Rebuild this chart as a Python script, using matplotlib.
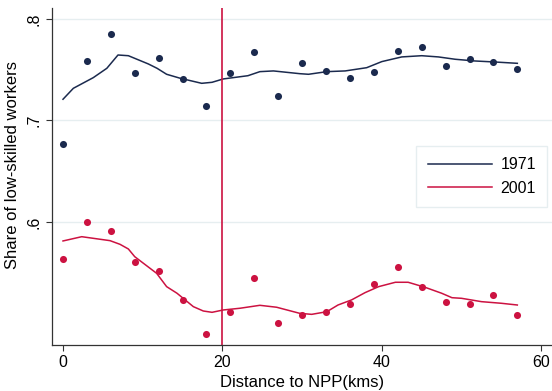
import matplotlib
matplotlib.use("Agg")
import matplotlib.pyplot as plt

plt.rcParams['font.family'] = ['Liberation Sans', 'DejaVu Sans']

# binned means (every 3 km)
dist = [0, 3, 6, 9, 12, 15, 18, 21, 24, 27, 30, 33, 36, 39, 42, 45, 48, 51, 54, 57]
share_1971 = [0.677, 0.759, 0.785, 0.747, 0.762, 0.741, 0.714, 0.747, 0.767, 0.724,
              0.757, 0.749, 0.742, 0.748, 0.768, 0.772, 0.754, 0.761, 0.758, 0.751]
share_2001 = [0.564, 0.600, 0.591, 0.561, 0.552, 0.523, 0.490, 0.511, 0.545, 0.500,
              0.508, 0.511, 0.519, 0.539, 0.556, 0.536, 0.521, 0.519, 0.528, 0.508]

# lowess fits
fit_x_1971 = [0.0, 1.3, 3.8, 5.5, 6.9, 8.2, 10.7, 11.8, 13.0, 14.7, 17.4, 18.7, 20.1,
              23.2, 24.7, 26.4, 29.7, 30.8, 33.1, 35.4, 38.1, 40.0, 42.5, 45.0, 47.1,
              49.2, 51.7, 54.2, 57.0]
fit_y_1971 = [0.7209, 0.7317, 0.7422, 0.7514, 0.7645, 0.7638, 0.7557, 0.7514, 0.7455,
              0.7416, 0.7366, 0.7376, 0.7409, 0.7441, 0.7481, 0.7488, 0.7461, 0.7455,
              0.7481, 0.7488, 0.7520, 0.7580, 0.7626, 0.7638, 0.7626, 0.7603, 0.7586,
              0.7576, 0.7563]
fit_x_2001 = [0.0, 2.35, 5.9, 7.15, 8.2, 9.0, 11.75, 13.0, 14.3, 16.35, 17.6, 18.7,
              20.1, 22.2, 24.7, 26.8, 29.7, 31.2, 33.1, 34.5, 36.2, 37.9, 39.6, 41.7,
              43.3, 45.4, 47.5, 48.8, 50.0, 52.5, 55.0, 57.0]
fit_y_2001 = [0.5813, 0.5855, 0.5816, 0.5780, 0.5734, 0.5658, 0.5494, 0.5363, 0.5298,
              0.5166, 0.5123, 0.5110, 0.5133, 0.5150, 0.5179, 0.5160, 0.5100, 0.5090,
              0.5116, 0.5182, 0.5232, 0.5304, 0.5363, 0.5406, 0.5406, 0.5357, 0.5298,
              0.5254, 0.5248, 0.5215, 0.5199, 0.5182]

cutoff = 20

navy = '#1b2a4e'
red = '#cc1241'
grid_col = '#e6eef0'

fig = plt.figure(figsize=(5.52, 3.91), dpi=100)
ax = fig.add_axes([52 / 552, 46 / 391, 500 / 552, 337 / 391])

ax.yaxis.grid(True, color=grid_col, lw=1)
ax.set_axisbelow(True)

ax.scatter(dist, share_1971, s=26, color=navy, zorder=3, linewidths=0)
ax.scatter(dist, share_2001, s=26, color=red, zorder=3, linewidths=0)
ax.plot(fit_x_1971, fit_y_1971, color=navy, lw=1.1, label='1971', zorder=2)
ax.plot(fit_x_2001, fit_y_2001, color=red, lw=1.1, label='2001', zorder=2)
ax.axvline(cutoff, color=red, lw=1.2, zorder=2)

ax.set_xlim(-1.38, 61.35)
ax.set_ylim(0.4788, 0.8108)
ax.set_xticks([0, 20, 40, 60])
ax.set_yticks([0.6, 0.7, 0.8])
ax.set_yticklabels(['.6', '.7', '.8'], rotation=90, va='center')
ax.tick_params(axis='both', length=4, width=0.8, labelsize=11.5, color='#333333')

for s in ['top', 'right']:
    ax.spines[s].set_visible(False)
for s in ['left', 'bottom']:
    ax.spines[s].set_color('#333333')
    ax.spines[s].set_linewidth(0.9)

ax.set_xlabel('Distance to NPP(kms)', fontsize=12, labelpad=3)
ax.set_ylabel('Share of low-skilled workers', fontsize=12)
ax.yaxis.set_label_coords(-0.064, 0.534)

leg = ax.legend(loc='upper right', bbox_to_anchor=(547 / 552, 1 - 146 / 391),
                bbox_transform=fig.transFigure, borderaxespad=0,
                fontsize=11.5, handlelength=4.0, handletextpad=0.55,
                fancybox=False, framealpha=1, edgecolor=grid_col,
                borderpad=0.7, labelspacing=0.55)
leg.get_frame().set_linewidth(1)

fig.savefig('out.png', dpi=100)
